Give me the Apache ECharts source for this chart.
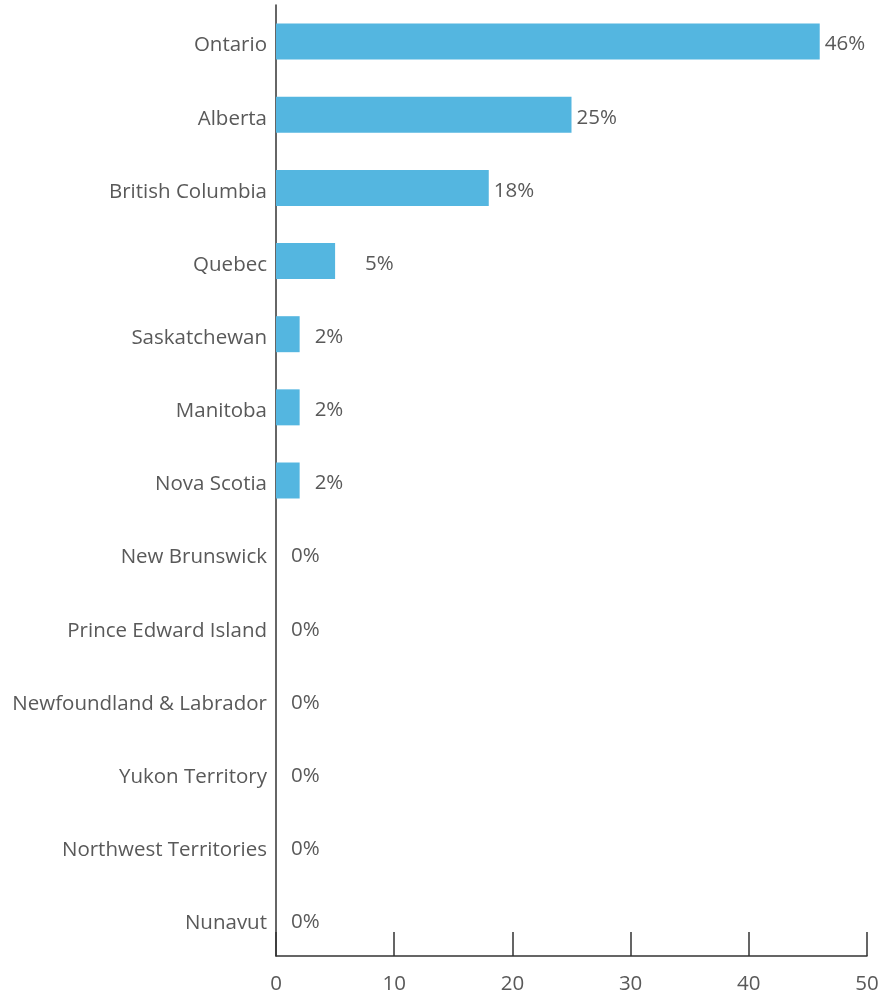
<!DOCTYPE html>
<html>
<head>
<meta charset="utf-8">
<script src="https://cdn.jsdelivr.net/npm/echarts@6/dist/echarts.min.js"></script>
<style>
  html, body { margin: 0; padding: 0; background: #fff; }
  #chart { width: 883px; height: 1001px; }
</style>
</head>
<body>
<div id="chart"></div>
<script>
// Share of total by province / territory (%)
const provinces = [
  'Ontario', 'Alberta', 'British Columbia', 'Quebec', 'Saskatchewan',
  'Manitoba', 'Nova Scotia', 'New Brunswick', 'Prince Edward Island',
  'Newfoundland & Labrador', 'Yukon Territory', 'Northwest Territories', 'Nunavut'
];
const shares = [46, 25, 18, 5, 2, 2, 2, 0, 0, 0, 0, 0, 0];
const xTicks = [0, 10, 20, 30, 40, 50];

const textColor = '#595959';
const font = '"Open Sans", "Noto Sans", sans-serif';
const fontSize = 20.5;

const chart = echarts.init(document.getElementById('chart'), null, { renderer: 'canvas' });

const barData = shares.map(function (v) {
  return {
    value: v,
    label: { distance: v === 5 ? 30 : (v < 10 ? 15 : 5) }
  };
});

chart.setOption({
  animation: false,
  grid: { left: 276, right: 16, top: 5, bottom: 45, containLabel: false },
  xAxis: {
    type: 'value',
    min: xTicks[0],
    max: xTicks[xTicks.length - 1],
    interval: 10,
    axisLine: { show: true, lineStyle: { color: '#333', width: 1.5 } },
    axisTick: { show: true, inside: true, length: 24, lineStyle: { color: '#333', width: 1.5 } },
    axisLabel: { color: textColor, fontSize: fontSize, fontFamily: font, margin: 18 },
    splitLine: { show: false }
  },
  yAxis: {
    type: 'category',
    data: provinces,
    inverse: true,
    axisLine: { show: true, lineStyle: { color: '#333', width: 1.5 } },
    axisTick: { show: false },
    axisLabel: {
      margin: 9,
      formatter: function (name) { return '{n|' + name + '}'; },
      rich: {
        n: { color: textColor, fontSize: fontSize, fontFamily: font, padding: [8, 0, 0, 0] }
      }
    }
  },
  series: [{
    type: 'bar',
    data: barData,
    barWidth: 36,
    itemStyle: { color: '#54B6E0' },
    label: {
      show: true,
      position: 'right',
      color: textColor,
      fontSize: fontSize,
      fontFamily: font,
      offset: [0, 3],
      formatter: function (p) { return p.value + '%'; }
    }
  }]
});
</script>
</body>
</html>
